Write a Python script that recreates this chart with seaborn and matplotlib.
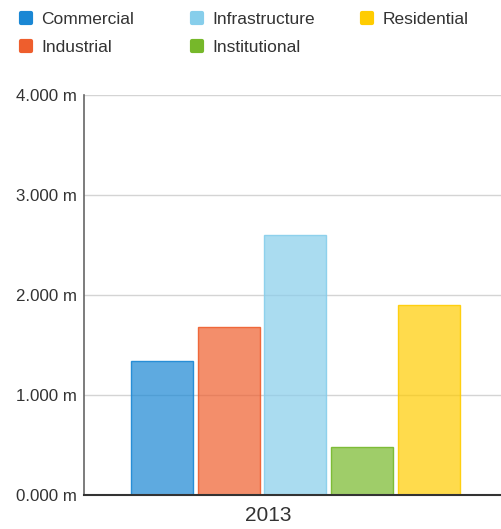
import matplotlib
matplotlib.use("Agg")
import matplotlib.pyplot as plt
import matplotlib.transforms as mtransforms
from matplotlib.lines import Line2D
from matplotlib.markers import MarkerStyle
from matplotlib.colors import to_rgba
import seaborn as sns
import pandas as pd

# Construction spending by sector (millions)
years = ["2013"]
categories = ["Commercial", "Industrial", "Infrastructure", "Institutional", "Residential"]
values = [1.34, 1.68, 2.60, 0.48, 1.90]
colors = ["#1a87d4", "#ee5e2d", "#87ceeb", "#76b82a", "#ffcc00"]
y_ticks = [0, 1, 2, 3, 4]

df = pd.DataFrame({
    "year": years * len(categories),
    "category": categories,
    "value": values,
})

sns.set_theme(style="white")
plt.rcParams["font.family"] = ["Liberation Sans", "DejaVu Sans"]

W, H = 501, 529
fig = plt.figure(figsize=(W / 100, H / 100), dpi=100)
ax = fig.add_axes([84 / W, 34 / H, 1 - 84 / W, 400 / H])

palette = dict(zip(categories, colors))
sns.barplot(data=df, x="year", y="value", hue="category", hue_order=categories,
            palette=palette, gap=0.07, legend=False, ax=ax, errorbar=None)

# lighten faces, keep a crisp edge in the full colour
for patch, c in zip(ax.patches, colors):
    patch.set_facecolor(to_rgba(c, 0.70))
    patch.set_edgecolor(to_rgba(c, 0.9))
    patch.set_linewidth(1.0)

ax.set_xlim(-0.507, 0.493)
ax.set_ylim(0, 4)
ax.set_yticks(y_ticks)
ax.set_yticklabels([f"{v:.3f} m" for v in y_ticks], fontsize=12.2, color="#333333")
ax.set_xlabel("")
ax.set_ylabel("")
ax.yaxis.grid(True, color="#d4d4d4", linewidth=1.0)
ax.set_axisbelow(True)

ax.tick_params(axis="y", direction="in", length=6.5, width=1.3, color="#444444", pad=5)
ax.tick_params(axis="x", length=0, pad=8, labelsize=15, labelcolor="#333333")
offset = mtransforms.ScaledTranslation(-0.27, 0, fig.dpi_scale_trans)
for lab in ax.get_xticklabels():
    lab.set_transform(lab.get_transform() + offset)

for side in ["top", "right"]:
    ax.spines[side].set_visible(False)
ax.spines["left"].set_color("#666666")
ax.spines["left"].set_linewidth(1.2)
ax.spines["bottom"].set_color("#333333")
ax.spines["bottom"].set_linewidth(1.5)

# legend: three fixed-width columns
marker = MarkerStyle("s", joinstyle="round")
def handle(c):
    return Line2D([], [], linestyle="none", marker=marker, markersize=7,
                  markerfacecolor=c, markeredgecolor=c, markeredgewidth=3)

columns = [[0, 1], [2, 3], [4]]
col_x = [19, 190, 360]
for idx, x0 in zip(columns, col_x):
    fig.legend([handle(colors[i]) for i in idx], [categories[i] for i in idx],
               loc="upper left", bbox_to_anchor=(x0 / W, 1 - 12 / H),
               frameon=False, borderpad=0, borderaxespad=0,
               handlelength=0.8, handletextpad=0.5, labelspacing=0.72,
               prop={"size": 12.5}, labelcolor="#333333")

fig.savefig("out.png", dpi=100)
